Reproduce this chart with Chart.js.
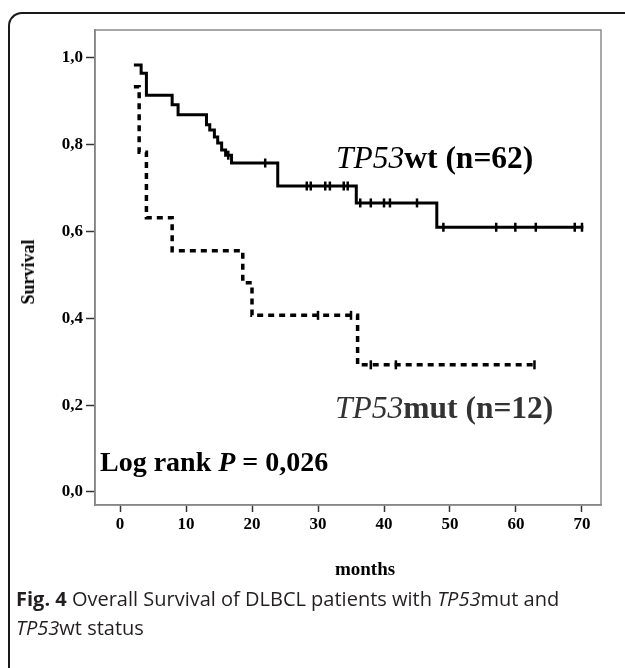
<!DOCTYPE html>
<html>
<head>
<meta charset="utf-8">
<title>Overall Survival TP53</title>
<script src="https://cdn.jsdelivr.net/npm/chart.js@4.4.1/dist/chart.umd.min.js"></script>
<style>
  html, body { margin: 0; padding: 0; background: #fff; }
  #wrap { position: relative; width: 625px; height: 668px; overflow: hidden; }
  #box {
    position: absolute; left: 8px; top: 12px; width: 615px; height: 700px;
    border-top: 2px solid #1a1a1a; border-left: 2px solid #1a1a1a;
    border-top-left-radius: 14px;
  }
  #chart { position: absolute; left: 0; top: 0; }
  .serif { position: absolute; font-family: "Liberation Serif", "DejaVu Serif", serif; white-space: nowrap; line-height: 1; }
  .serif i { font-weight: normal; }
  .serif b { font-weight: bold; }
  #survival { left: 28px; top: 272px; font-size: 18px; font-weight: bold; transform: translate(-50%, -50%) rotate(-90deg); }
  #months { left: 365px; top: 568px; font-size: 19px; font-weight: bold; transform: translate(-50%, -50%); }
  #lblWt { left: 336px; top: 142px; font-size: 31.5px; color: #000; }
  #lblMut { left: 335px; top: 392px; font-size: 31.5px; color: #333; }
  #logrank { left: 100px; top: 448px; font-size: 28px; font-weight: bold; }
  #caption {
    position: absolute; left: 16px; top: 584px; width: 605px;
    font-family: "Open Sans", "Noto Sans", sans-serif; font-size: 20px; line-height: 29px; color: #231f20;
  }
</style>
</head>
<body>
<div id="wrap">
  <div id="box"></div>
  <canvas id="chart" width="625" height="668"></canvas>
  <div id="survival" class="serif">Survival</div>
  <div id="months" class="serif">months</div>
  <div id="lblWt" class="serif"><i>TP53</i><b>wt (n=62)</b></div>
  <div id="lblMut" class="serif"><i>TP53</i><b>mut (n=12)</b></div>
  <div id="logrank" class="serif">Log rank <i style="font-weight:bold">P</i> = 0,026</div>
  <div id="caption"><b>Fig. 4</b> Overall Survival of DLBCL patients with <i>TP53</i>mut and<br><i>TP53</i>wt status</div>
</div>
<script>
// Kaplan-Meier steps (months, survival after the step)
const wtMonths = [2.1, 3.2, 4.0, 7.9, 8.8, 13.1, 13.6, 14.3, 14.8, 15.4, 16.0, 16.9, 23.9, 35.8, 48.0, 70.2];
const wtSurv   = [0.984, 0.965, 0.914, 0.892, 0.869, 0.846, 0.834, 0.818, 0.804, 0.788, 0.776, 0.758, 0.705, 0.666, 0.610, 0.610];

const mutMonths = [2.1, 2.9, 4.0, 7.9, 18.6, 20.0, 36.0, 62.8];
const mutSurv   = [0.934, 0.783, 0.632, 0.556, 0.482, 0.407, 0.293, 0.293];

// censored cases (the small vertical ticks)
const wtCensorMonths = [16.4, 22.0, 28.3, 28.9, 31.1, 31.8, 33.9, 34.5, 36.4, 38.0, 40.0, 40.9, 45.0, 49.0, 57.0, 59.9, 63.0, 68.9, 70.0];
const wtCensorSurv   = [0.776, 0.758, 0.705, 0.705, 0.705, 0.705, 0.705, 0.705, 0.666, 0.666, 0.666, 0.666, 0.666, 0.610, 0.610, 0.610, 0.610, 0.610, 0.610];

const mutCensorMonths = [30.0, 35.0, 38.0, 41.8, 62.8];
const mutCensorSurv   = [0.407, 0.407, 0.293, 0.293, 0.293];

const xTicks = [0, 10, 20, 30, 40, 50, 60, 70];
const yTicks = [0, 0.2, 0.4, 0.6, 0.8, 1.0];
const yTickLabels = ['0,0', '0,2', '0,4', '0,6', '0,8', '1,0'];

const toPoints = (xs, ys) => xs.map((x, i) => ({ x: x, y: ys[i] }));

// grey box round the plot area
const framePlugin = {
  id: 'frame',
  beforeDatasetsDraw(chart) {
    const { ctx, chartArea: a } = chart;
    ctx.save();
    ctx.strokeStyle = '#8c8c8c';
    ctx.lineWidth = 1.5;
    ctx.strokeRect(a.left, a.top, a.right - a.left, a.bottom - a.top);
    ctx.restore();
  }
};

const tickFont = { family: 'Liberation Serif', weight: 'bold', size: 17 };

const censorStyle = {
  showLine: false,
  pointStyle: 'line',
  pointRotation: 90,
  pointRadius: 4.5,
  pointBorderWidth: 2.5,
  pointBorderColor: '#000',
  pointBackgroundColor: '#000'
};

new Chart(document.getElementById('chart'), {
  type: 'line',
  data: {
    datasets: [
      {
        label: 'TP53wt',
        data: toPoints(wtMonths, wtSurv),
        borderColor: '#000',
        borderWidth: 3,
        stepped: true,
        pointRadius: 0,
        fill: false
      },
      {
        label: 'TP53mut',
        data: toPoints(mutMonths, mutSurv),
        borderColor: '#000',
        borderWidth: 3.5,
        borderDash: [6, 5],
        stepped: true,
        pointRadius: 0,
        fill: false
      },
      Object.assign({ label: 'wt censored', data: toPoints(wtCensorMonths, wtCensorSurv) }, censorStyle),
      Object.assign({ label: 'mut censored', data: toPoints(mutCensorMonths, mutCensorSurv) }, censorStyle)
    ]
  },
  options: {
    responsive: false,
    animation: false,
    layout: { padding: { left: 0, top: 30, right: 24, bottom: 123 } },
    plugins: { legend: { display: false }, tooltip: { enabled: false } },
    scales: {
      x: {
        type: 'linear',
        min: -3.79,
        max: 72.88,
        afterBuildTicks: s => { s.ticks = xTicks.map(v => ({ value: v })); },
        afterFit: s => { s.height = 40; },
        grid: { drawOnChartArea: false, drawTicks: true, tickLength: 7, tickColor: '#333', tickWidth: 1.5 },
        border: { display: true, color: '#777', width: 1.5 },
        ticks: { color: '#000', font: tickFont, padding: 2, maxRotation: 0 }
      },
      y: {
        type: 'linear',
        min: -0.030,
        max: 1.0645,
        afterBuildTicks: s => { s.ticks = yTicks.map(v => ({ value: v })); },
        afterFit: s => { s.width = 95; },
        grid: { drawOnChartArea: false, drawTicks: true, tickLength: 9, tickColor: '#333', tickWidth: 1.5 },
        border: { display: true, color: '#666', width: 1.5 },
        ticks: {
          color: '#000', font: tickFont, padding: 3,
          callback: v => yTickLabels[yTicks.indexOf(v)]
        }
      }
    }
  },
  plugins: [framePlugin]
});
</script>
</body>
</html>
